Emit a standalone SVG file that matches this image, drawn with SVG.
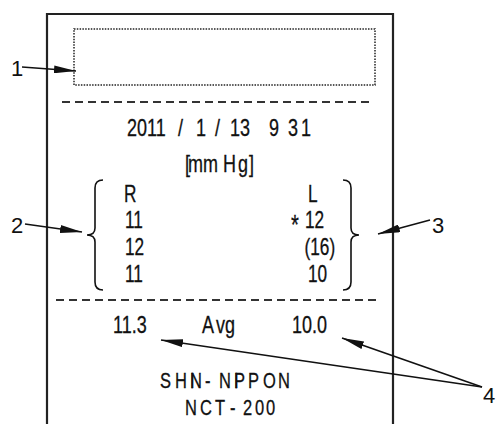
<svg xmlns="http://www.w3.org/2000/svg" width="502" height="424" viewBox="0 0 502 424">
<defs>
<marker id="ah" viewBox="0 0 22 8" refX="22" refY="4" markerWidth="22" markerHeight="8" markerUnits="userSpaceOnUse" orient="auto">
<path d="M0,0 L22,4 L0,8 Z" fill="#111"/>
</marker>
</defs>
<style>
.t{font-family:"Liberation Sans",Arial,sans-serif;font-size:24px;fill:#111;stroke:#111;stroke-width:0.3}
.lbl{font-family:"Liberation Sans",Arial,sans-serif;font-size:22px;fill:#111}
.ln{stroke:#111;stroke-width:1.6;fill:none}
.dash{stroke:#333;stroke-width:2;stroke-dasharray:8 5;fill:none}
.conn{stroke:#111;stroke-width:1.6;fill:none;marker-end:url(#ah)}
</style>
<rect width="502" height="424" fill="#fff"/>
<g id="receipt">
<path d="M47,424 L47,14 L393,14 L393,424" fill="none" stroke="#222" stroke-width="2.2"/>
<rect id="display-area" x="74" y="29" width="301" height="56" fill="none" stroke="#222" stroke-width="1.5" stroke-dasharray="1.5 1.3"/>
<line class="dash" x1="62" y1="102" x2="372" y2="102"/>
<line class="dash" x1="56" y1="300" x2="380" y2="300"/>
</g>
<g id="date" class="t" transform="scale(0.75 1)">
<text y="136"><tspan x="169.33">2011</tspan><tspan x="237.33">/</tspan><tspan x="261.33">1</tspan><tspan x="286.67">/</tspan><tspan x="306.67">13</tspan><tspan x="358.67">9</tspan><tspan x="384" letter-spacing="4">31</tspan></text>
</g>
<g id="unit" class="t" transform="scale(0.75 1)">
<text y="172" x="246.67 250.67 270.67 297.33 317.33 332">[mmHg]</text>
</g>
<g id="right-eye">
<path class="ln" d="M103,180 Q95,180 95,188 L95,228 Q95,235 87,235 Q95,235 95,242 L95,282 Q95,290 103,290"/>
<g class="t" transform="scale(0.75 1)" style="font-size:23px">
<text x="165.33" y="202">R</text>
<text x="166.67" y="228">11</text>
<text x="166.67" y="255">12</text>
<text x="166.67" y="282">11</text>
</g>
</g>
<g id="left-eye">
<path class="ln" d="M343,180 Q351,180 351,188 L351,228 Q351,235 359,235 Q351,235 351,242 L351,282 Q351,290 343,290"/>
<g class="t" transform="scale(0.75 1)" style="font-size:23px">
<text x="410.67" y="202">L</text>
<text y="228"><tspan x="388" dy="6" style="font-size:27px">*</tspan><tspan x="406.67" dy="-6">12</tspan></text>
<text x="406" y="255">(16)</text>
<text x="410.67" y="282">10</text>
</g>
</g>
<g id="average" class="t" transform="scale(0.75 1)">
<text x="150.67" y="333">11.3</text>
<text y="333"><tspan x="269.33">A</tspan><tspan x="288">vg</tspan></text>
<text x="389.33" y="333">10.0</text>
</g>
<g id="maker" class="t" transform="scale(0.75 1)" style="font-size:22px">
<text y="388" x="213.33 233.33 253.33 253.33 273.33 292 312 312 330.67 350.67 370.67">SHIN-NIPPON</text>
<text y="415" x="246.67 266.67 286.67 306.67 324 340 354.67">NCT-200</text>
</g>
<g id="connectors">
<line class="conn" x1="22" y1="67" x2="76" y2="71"/>
<line class="conn" x1="25" y1="224" x2="82" y2="232"/>
<line class="conn" x1="430" y1="220" x2="378" y2="234"/>
<line class="conn" x1="482" y1="387" x2="161" y2="340"/>
<line class="conn" x1="482" y1="387" x2="342" y2="338"/>
</g>
<g id="labels" class="lbl">
<text x="11" y="76">1</text>
<text x="11" y="233">2</text>
<text x="432" y="233">3</text>
<text x="483" y="403">4</text>
</g>
</svg>
